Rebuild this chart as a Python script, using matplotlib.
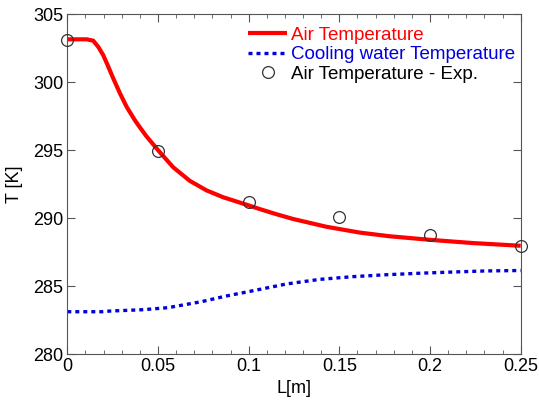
import matplotlib
matplotlib.use("Agg")
import matplotlib.pyplot as plt
from matplotlib.ticker import MultipleLocator

plt.rcParams['font.family'] = ['Liberation Sans', 'DejaVu Sans']

# Air temperature (model)
air_x = [0.0, 0.005, 0.0107, 0.0143, 0.0171, 0.0198, 0.0226, 0.0253, 0.029, 0.0327,
         0.0373, 0.0405, 0.0437, 0.0501, 0.0584, 0.0676, 0.0768, 0.0859, 0.0988,
         0.1061, 0.1153, 0.1245, 0.1428, 0.1612, 0.1777, 0.1997, 0.2236, 0.25]
air_T = [303.16, 303.16, 303.16, 303.06, 302.6, 302.0, 301.15, 300.3, 299.2, 298.2,
         297.2, 296.6, 296.02, 295.0, 293.75, 292.75, 292.05, 291.55, 291.0,
         290.68, 290.3, 289.95, 289.38, 288.95, 288.68, 288.42, 288.18, 287.98]

# Cooling water temperature (model)
water_x = [0.0, 0.019, 0.0235, 0.0419, 0.0556, 0.0648, 0.074, 0.0878, 0.1015, 0.1208,
           0.1392, 0.1575, 0.1759, 0.1942, 0.2126, 0.2309, 0.25]
water_T = [283.13, 283.13, 283.18, 283.28, 283.43, 283.65, 283.87, 284.29, 284.65, 285.17,
           285.51, 285.71, 285.85, 285.96, 286.05, 286.13, 286.16]

# Experimental air temperature
exp_x = [0.0, 0.05, 0.1, 0.15, 0.2, 0.25]
exp_T = [303.1, 294.97, 291.2, 290.07, 288.8, 288.0]

fig = plt.figure(figsize=(5.39, 4.01), dpi=100)
ax = fig.add_axes([67.3/539, 1-354.3/401, (520.7-67.3)/539, (354.3-14.3)/401])

ax.plot(air_x, air_T, color='#ff0000', lw=3.0, label='Air Temperature', solid_capstyle='butt')
ax.plot(water_x, water_T, color='#0000dd', lw=2.4, linestyle=(0, (1.2, 1.2)),
        label='Cooling water Temperature')
ax.plot(exp_x, exp_T, 'o', mfc='none', mec='#333333', ms=8.5, mew=0.9,
        label='Air Temperature - Exp.', clip_on=False, zorder=5)

ax.set_xlim(0, 0.25)
ax.set_ylim(280, 305)
ax.set_xticks([0, 0.05, 0.1, 0.15, 0.2, 0.25])
ax.set_xticklabels(['0', '0.05', '0.1', '0.15', '0.2', '0.25'])
ax.set_yticks([280, 285, 290, 295, 300, 305])
ax.xaxis.set_minor_locator(MultipleLocator(0.01))
ax.tick_params(which='both', direction='in', top=True, right=True, colors='#555555',
               labelcolor='black', labelsize=13, pad=3)
ax.tick_params(which='major', length=5.5)
ax.tick_params(which='minor', length=3)
for s in ax.spines.values():
    s.set_color('#555555')
ax.set_xlabel('L[m]', fontsize=13, labelpad=3)
ax.set_ylabel('T [K]', fontsize=13, labelpad=7)

leg = ax.legend(loc='upper right', frameon=False, fontsize=13.5, handlelength=2.1,
                handletextpad=0.2, labelspacing=0.12, borderaxespad=0.0, borderpad=0.3,
                bbox_to_anchor=(1.0, 0.98))
for t, c in zip(leg.get_texts(), ['#ff0000', '#0000dd', 'black']):
    t.set_color(c)

fig.savefig('out.png', dpi=100)
